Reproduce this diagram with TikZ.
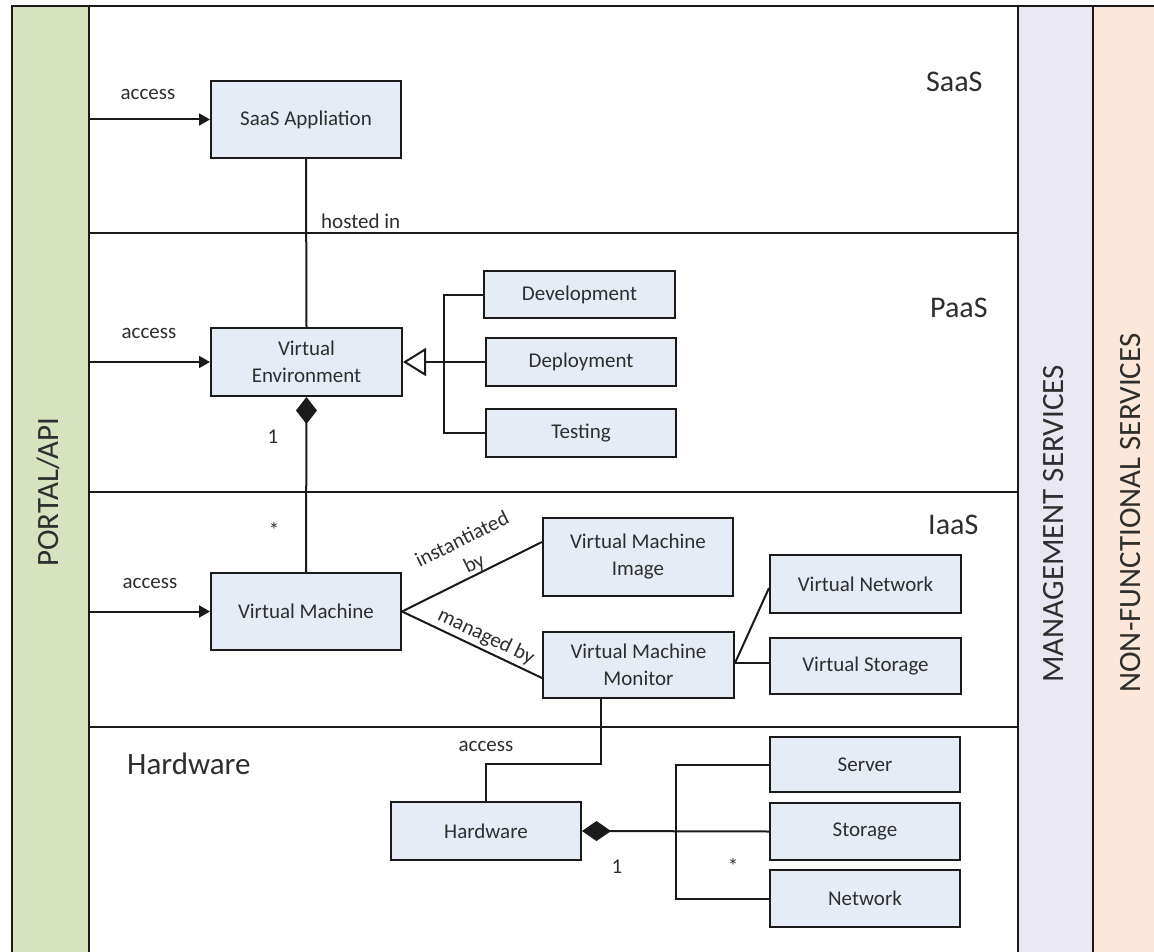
\documentclass[tikz,border=0pt]{standalone}
\usepackage{fontspec}
\setmainfont{Carlito}
\usetikzlibrary{arrows.meta,calc}

\definecolor{portalgreen}{HTML}{D7E2BE}
\definecolor{mgmtlav}{HTML}{E9E7F1}
\definecolor{nfpeach}{HTML}{FCE8DA}
\definecolor{boxblue}{HTML}{E6ECF6}
\definecolor{ink}{HTML}{1A1A1A}
\definecolor{txt}{HTML}{2E2E2E}

\tikzset{
  umlbox/.style={draw=ink, line width=2pt, fill=boxblue, align=center,
    text=txt, font=\fontsize{21}{27}\selectfont, inner sep=2pt},
  conn/.style={draw=ink, line width=2pt},
  lbl/.style={text=txt, font=\fontsize{21}{27}\selectfont, inner sep=0pt, align=center},
  layer/.style={text=txt, font=\fontsize{30}{36}\selectfont, inner sep=0pt, anchor=west},
  band/.style={text=txt, font=\fontsize{31}{36}\selectfont, inner sep=0pt, rotate=90},
  frame/.style={draw=ink, line width=2pt},
}

\begin{document}
\begin{tikzpicture}[x=1pt,y=-1pt]
\useasboundingbox (0,0) rectangle (1154,952);
\fill[white] (0,0) rectangle (1154,952);

% side bands
\fill[portalgreen] (12,6) rectangle (89,952);
\fill[mgmtlav] (1018,6) rectangle (1093,952);
\fill[nfpeach] (1093,6) rectangle (1154,952);

% frame and layer separators
\draw[frame] (12,952) -- (12,6) -- (1154,6);
\draw[frame] (89,6) -- (89,952);
\draw[frame] (1018,6) -- (1018,952);
\draw[frame] (1093,6) -- (1093,952);
\draw[frame] (89,233) -- (1018,233);
\draw[frame] (89,492) -- (1018,492);
\draw[frame] (89,727) -- (1018,727);

% band titles
\node[band] (portal) at (48,492) {PORTAL/API};
\node[band] (mgmt) at (1054,524) {MANAGEMENT SERVICES};
\node[band] (nonfunc) at (1131,513) {NON-FUNCTIONAL SERVICES};

% layer titles
\node[layer] (tsaas) at (926,82) {SaaS};
\node[layer] (tpaas) at (930,308) {PaaS};
\node[layer] (tiaas) at (928,525) {IaaS};
\node[layer, font=\fontsize{31}{36}\selectfont] (thw) at (127,764) {Hardware};

% classes
\node[umlbox, minimum width=190pt, minimum height=77pt] (saas) at (306,119.5) {SaaS Appliation};
\node[umlbox, minimum width=191pt, minimum height=68pt] (ve) at (306.5,362) {Virtual\\Environment};
\node[umlbox, minimum width=191pt, minimum height=47pt] (dev) at (579.5,294.5) {Development};
\node[umlbox, minimum width=190pt, minimum height=48pt] (dep) at (581,362) {Deployment};
\node[umlbox, minimum width=190pt, minimum height=48pt] (test) at (581,433) {Testing};
\node[umlbox, minimum width=190pt, minimum height=77pt] (vm) at (306,611.5) {Virtual Machine};
\node[umlbox, minimum width=190pt, minimum height=78pt] (vmi) at (638,557) {Virtual Machine\\Image};
\node[umlbox, minimum width=191pt, minimum height=66pt] (vmm) at (638.5,665) {Virtual Machine\\Monitor};
\node[umlbox, minimum width=191pt, minimum height=58pt] (vn) at (865.5,584) {Virtual Network};
\node[umlbox, minimum width=191pt, minimum height=56pt] (vs) at (865.5,666) {Virtual Storage};
\node[umlbox, minimum width=190pt, minimum height=58pt] (hw) at (486,831) {Hardware};
\node[umlbox, minimum width=190pt, minimum height=55pt] (server) at (865,764.5) {Server};
\node[umlbox, minimum width=190pt, minimum height=57pt] (storage) at (865,831.5) {Storage};
\node[umlbox, minimum width=190pt, minimum height=57pt] (network) at (865,898.5) {Network};

% access from the portal
\coordinate (pa1) at (89,119.5);
\coordinate (pa2) at (89,362);
\coordinate (pa3) at (89,611.5);
\draw[conn, -{Triangle[length=11pt,width=12pt]}] (pa1) -- (saas.west);
\draw[conn, -{Triangle[length=11pt,width=12pt]}] (pa2) -- (ve.west);
\draw[conn, -{Triangle[length=11pt,width=12pt]}] (pa3) -- (vm.west);
\node[lbl] (acc1) at (148,94) {access};
\node[lbl] (acc2) at (149,333) {access};
\node[lbl] (acc3) at (150,583) {access};

% hosted in
\draw[conn] (saas.south) -- (ve.north);
\node[lbl, anchor=west] (hosted) at (321,221) {hosted in};

% composition: environment -- machine
\draw[conn, {Diamond[length=27pt,width=21pt]}-] (ve.south) -- (vm.north);
\node[lbl] (m1) at (273,437) {1};
\node[lbl] (m2) at (274,530) {*};

% generalisation of the environment
\coordinate (gx) at (444,0);
\draw[conn, -{Triangle[open,length=23pt,width=28pt,fill=white]}] (dep.west) -- (ve.east);
\draw[conn] (dev.west) -- (dev.west -| gx) -- (test.west -| gx) -- (test.west);

% machine associations
\draw[conn] (vm.east) -- ([yshift=15pt]vmi.west)
  node[lbl, pos=0.55, sloped, above=0pt] (inst) {instantiated\\by};
\draw[conn] (vm.east) -- ([yshift=-13pt]vmm.west)
  node[lbl, pos=0.56, sloped, above=3pt] (mgd) {managed by};
\draw[conn] ([yshift=2pt]vmm.east) -- ([yshift=-4pt]vn.west);
\draw[conn] ([yshift=2pt]vmm.east) -- ([yshift=2pt]vmm.east -| vs.west);

% monitor runs on hardware
\coordinate (hwbend) at (486,764);
\draw[conn] ([xshift=-37.5pt]vmm.south) |- (hwbend) -- (hw.north);
\node[lbl] (acc4) at (486,746) {access};

% composition: hardware parts
\coordinate (bx) at (676,0);
\draw[conn, {Diamond[length=29pt,width=20pt]}-] (hw.east) -- (storage.west);
\draw[conn] (server.west) -- (server.west -| bx) -- (network.west -| bx) -- (network.west);
\node[lbl] (m3) at (617,867) {1};
\node[lbl] (m4) at (733,866) {*};
\end{tikzpicture}
\end{document}
